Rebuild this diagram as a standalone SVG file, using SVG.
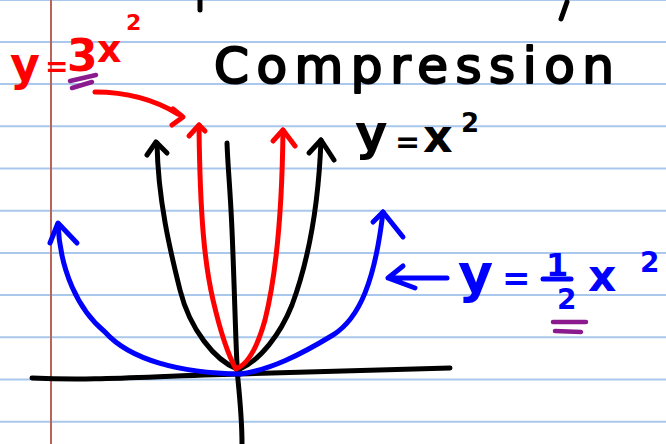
<svg xmlns="http://www.w3.org/2000/svg" width="666" height="444" viewBox="0 0 666 444">
<style>
.rule{stroke:#a9c8ec;stroke-width:2;fill:none}
.ink{fill:none;stroke-width:5;stroke-linecap:round;stroke-linejoin:round}
.k{stroke:#000}
.r{stroke:#ff0000}
.b{stroke:#0000ff}
.p{stroke:#8a1a8e;stroke-width:4.5;fill:none;stroke-linecap:round}
.t{font-family:"DejaVu Sans","Noto Sans",sans-serif;font-weight:bold}
.h{font-family:"DejaVu Sans","Noto Sans",sans-serif;font-weight:normal;stroke:#000;stroke-width:2.2;stroke-linejoin:round}
</style>
<rect width="666" height="444" fill="#fff"/>
<g id="paper">
<path class="rule" d="M0,0H666M0,41.9H666M0,84.1H666M0,126.3H666M0,168.5H666M0,210.7H666M0,252.9H666M0,295.1H666M0,337.3H666M0,379.5H666M0,421.7H666"/>
<path d="M51,0V444" stroke="#b8645a" stroke-width="2"/>
<path class="ink k" d="M200,0V10M567,2L561,19"/>
</g>
<g id="title">
<text class="h" x="214" y="83" font-size="50" textLength="400" lengthAdjust="spacing" fill="#000">Compression</text>
</g>
<g id="axes">
<path class="ink k" d="M32,378C100,381 150,376 240,374C330,372 400,370 450,368"/>
<path class="ink k" d="M227,143C228,170 230,185 232,230C235,300 236,360 238,380C240,400 242,420 242,444"/>
</g>
<g id="curve-x2">
<path class="ink k" d="M237,369C215,360 190,330 180,290C170,250 158,200 157,143"/>
<path class="ink k" d="M147,155L156,142L167,153"/>
<path class="ink k" d="M240,369C260,360 280,335 292,305C305,270 318,220 321,140"/>
<path class="ink k" d="M309,153L321,140L334,160"/>
</g>
<g id="curve-3x2">
<path class="ink r" d="M236,369C228,355 220,330 213,300C205,265 200,220 199,125"/>
<path class="ink r" d="M189,136L199,125L205,131"/>
<path class="ink r" d="M238,368C250,362 258,345 265,320C275,280 282,220 283,130"/>
<path class="ink r" d="M273,141L283,130L295,146"/>
</g>
<g id="curve-half">
<path class="ink b" d="M240,374C180,373 130,360 105,332C78,310 60,270 58,224"/>
<path class="ink b" d="M50,243L58,223L77,243"/>
<path class="ink b" d="M240,374C270,370 300,355 333,335C360,318 375,280 383,212"/>
<path class="ink b" d="M373,222L383,212L403,237"/>
</g>
<g id="label-3x2">
<text class="t" fill="#ff0000"><tspan x="10" y="80" font-size="46">y</tspan><tspan x="45" y="76" font-size="28">=</tspan><tspan x="67" y="71" font-size="44">3</tspan><tspan x="97" y="62" font-size="38">x</tspan><tspan x="126" y="30" font-size="22">2</tspan></text>
<path class="p" d="M70,81L96,75M72,88L92,82"/>
<path class="ink r" d="M95,92C130,92 155,100 178,114"/>
<path class="ink r" d="M173,109L183,117L172,125"/>
</g>
<g id="label-x2">
<text class="t" fill="#000"><tspan x="355" y="150" font-size="50">y</tspan><tspan x="395" y="152" font-size="30">=</tspan><tspan x="423" y="152" font-size="46">x</tspan><tspan x="461" y="132" font-size="26">2</tspan></text>
</g>
<g id="label-half">
<path class="ink b" d="M447,278L388,278M403,266L388,278L415,288"/>
<text class="t" fill="#0000ff"><tspan x="458" y="292" font-size="54">y</tspan><tspan x="502" y="290" font-size="34">=</tspan><tspan x="546" y="276" font-size="32">1</tspan><tspan x="557" y="309" font-size="28">2</tspan><tspan x="588" y="291" font-size="44">x</tspan><tspan x="640" y="272" font-size="28">2</tspan></text>
<path class="ink b" d="M543,279L571,279"/>
<path class="p" d="M553,322L586,322M555,331L581,332"/>
</g>
</svg>
